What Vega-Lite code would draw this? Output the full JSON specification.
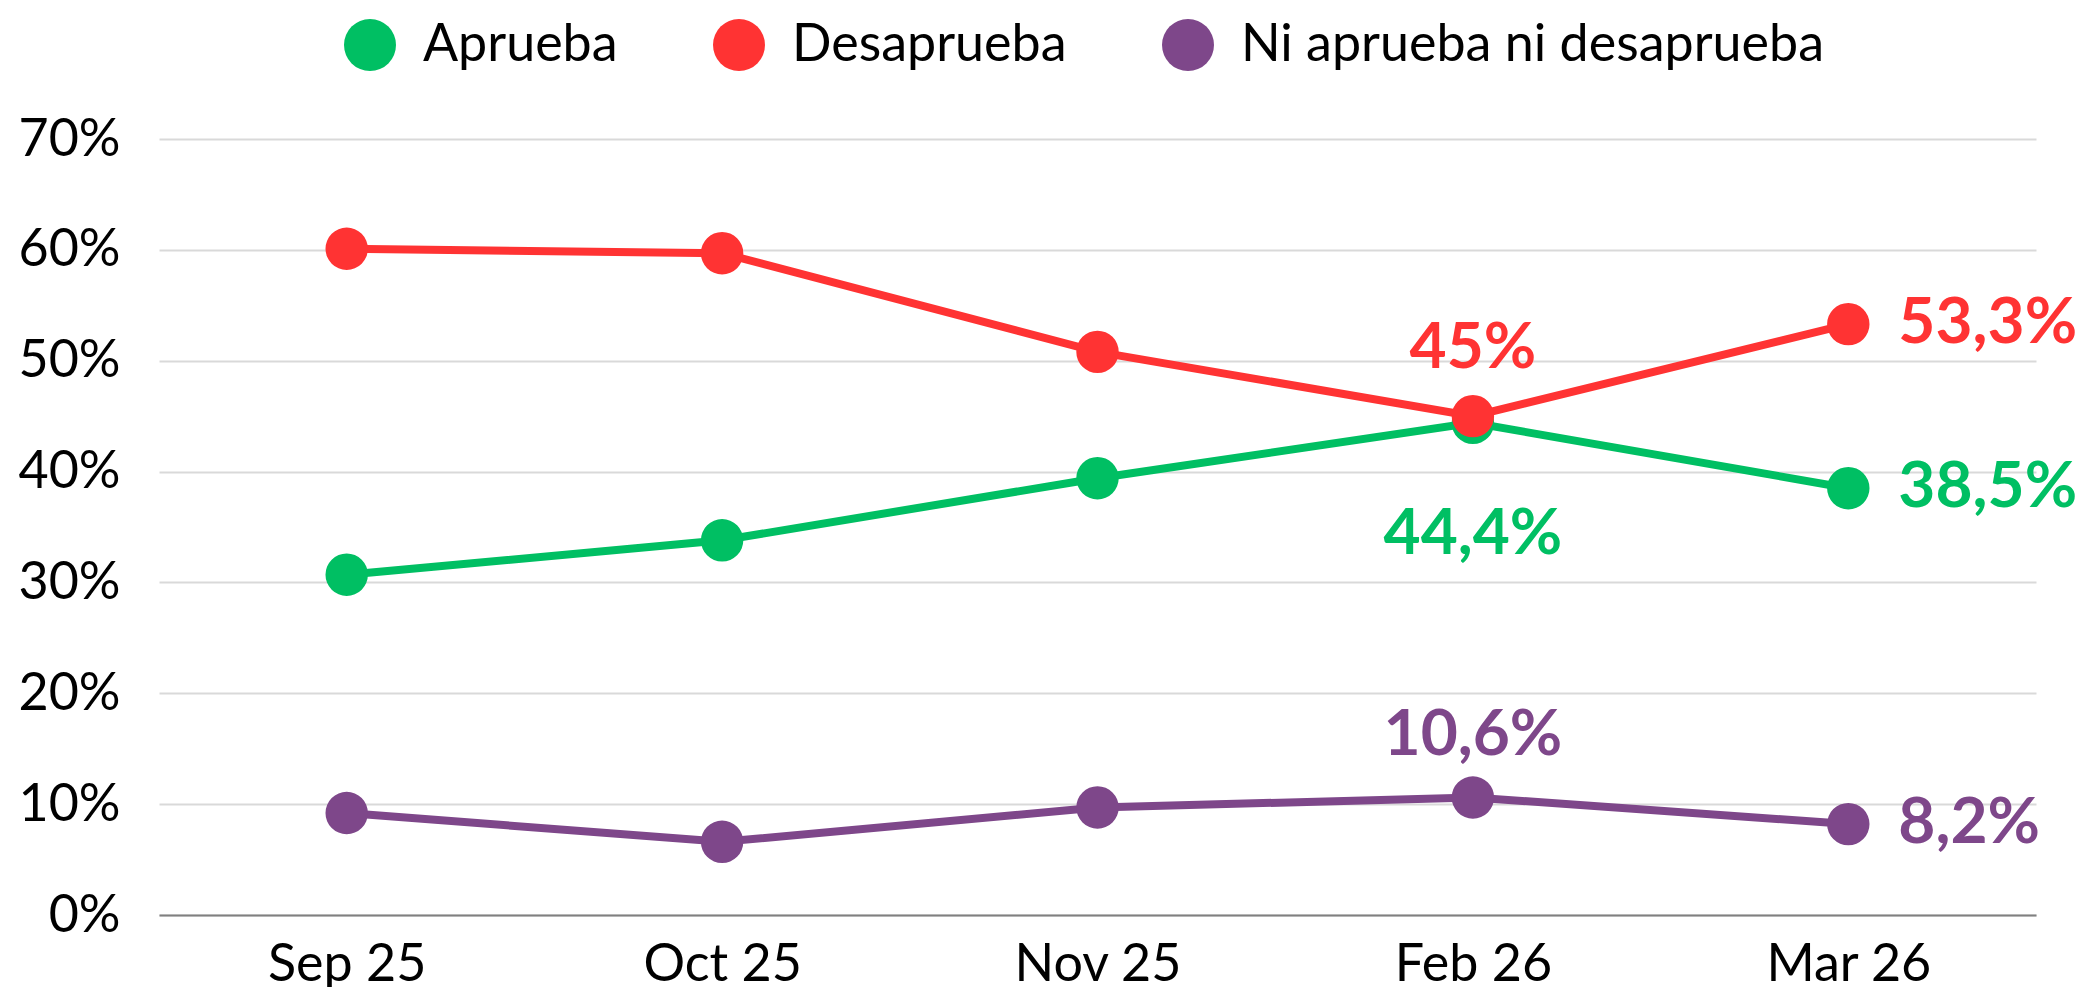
{
  "$schema": "https://vega.github.io/schema/vega-lite/v6.json",
  "autosize": "none",
  "width": 1877,
  "height": 776,
  "padding": {"left": 159, "top": 139, "right": 53, "bottom": 72},
  "background": "white",
  "config": {
    "font": "Lato",
    "view": {"stroke": null},
    "locale": {"number": {"decimal": ",", "thousands": ".", "grouping": [3], "currency": ["", " €"]}}
  },
  "data": {
    "values": [
      {"mes": "Sep 25", "serie": "Aprueba", "valor": 0.307},
      {"mes": "Oct 25", "serie": "Aprueba", "valor": 0.338},
      {"mes": "Nov 25", "serie": "Aprueba", "valor": 0.394},
      {"mes": "Feb 26", "serie": "Aprueba", "valor": 0.444},
      {"mes": "Mar 26", "serie": "Aprueba", "valor": 0.385},
      {"mes": "Sep 25", "serie": "Desaprueba", "valor": 0.601},
      {"mes": "Oct 25", "serie": "Desaprueba", "valor": 0.597},
      {"mes": "Nov 25", "serie": "Desaprueba", "valor": 0.508},
      {"mes": "Feb 26", "serie": "Desaprueba", "valor": 0.45},
      {"mes": "Mar 26", "serie": "Desaprueba", "valor": 0.533},
      {"mes": "Sep 25", "serie": "Ni aprueba ni desaprueba", "valor": 0.092},
      {"mes": "Oct 25", "serie": "Ni aprueba ni desaprueba", "valor": 0.066},
      {"mes": "Nov 25", "serie": "Ni aprueba ni desaprueba", "valor": 0.097},
      {"mes": "Feb 26", "serie": "Ni aprueba ni desaprueba", "valor": 0.106},
      {"mes": "Mar 26", "serie": "Ni aprueba ni desaprueba", "valor": 0.082}
    ]
  },
  "encoding": {
    "x": {
      "field": "mes", "type": "ordinal", "sort": null,
      "scale": {"type": "point", "padding": 0.5},
      "axis": {
        "title": null, "labelAngle": 0, "labelFont": "Lato", "labelFontSize": 52, "labelColor": "#000000",
        "labelPadding": 24, "ticks": false, "domainColor": "#808080", "domainWidth": 2, "grid": false
      }
    },
    "y": {
      "field": "valor", "type": "quantitative",
      "scale": {"domain": [0, 0.7], "nice": false},
      "axis": {
        "title": null, "values": [0, 0.1, 0.2, 0.3, 0.4, 0.5, 0.6, 0.7], "format": ".0%",
        "labelFont": "Lato", "labelFontSize": 52, "labelColor": "#000000", "labelPadding": 39,
        "ticks": false, "domain": false, "grid": true, "gridColor": "#d9d9d9", "gridWidth": 2
      }
    },
    "color": {
      "field": "serie", "type": "nominal",
      "scale": {"domain": ["Aprueba", "Desaprueba", "Ni aprueba ni desaprueba"], "range": ["#00BF63", "#FF3333", "#7E478A"]},
      "legend": {
        "title": null, "orient": "none", "direction": "horizontal", "legendX": 185, "legendY": -120,
        "symbolType": "circle", "symbolSize": 2704, "symbolStrokeWidth": 0, "symbolOpacity": 1,
        "labelFont": "Lato", "labelFontSize": 52, "labelColor": "#000000", "labelOffset": 27, "labelLimit": 2000,
        "columnPadding": 95, "padding": 0
      }
    }
  },
  "layer": [
    {"mark": {"type": "line", "strokeWidth": 8}},
    {"mark": {"type": "point", "shape": "circle", "filled": true, "opacity": 1, "size": 1800}},
    {
      "transform": [{"filter": "datum.mes == 'Mar 26'"}],
      "mark": {"type": "text", "align": "left", "baseline": "middle", "dx": 50, "font": "Lato", "fontWeight": "bold", "fontSize": 64},
      "encoding": {"text": {"field": "valor", "type": "quantitative", "format": ".1~%"}}
    },
    {
      "transform": [{"filter": "datum.mes == 'Feb 26' && datum.serie == 'Desaprueba'"}],
      "mark": {"type": "text", "align": "center", "baseline": "alphabetic", "dy": -48, "font": "Lato", "fontWeight": "bold", "fontSize": 64},
      "encoding": {"text": {"field": "valor", "type": "quantitative", "format": ".1~%"}}
    },
    {
      "transform": [{"filter": "datum.mes == 'Feb 26' && datum.serie == 'Ni aprueba ni desaprueba'"}],
      "mark": {"type": "text", "align": "center", "baseline": "alphabetic", "dy": -42, "font": "Lato", "fontWeight": "bold", "fontSize": 64},
      "encoding": {"text": {"field": "valor", "type": "quantitative", "format": ".1~%"}}
    },
    {
      "transform": [{"filter": "datum.mes == 'Feb 26' && datum.serie == 'Aprueba'"}],
      "mark": {"type": "text", "align": "center", "baseline": "alphabetic", "dy": 131, "font": "Lato", "fontWeight": "bold", "fontSize": 64},
      "encoding": {"text": {"field": "valor", "type": "quantitative", "format": ".1~%"}}
    }
  ]
}
